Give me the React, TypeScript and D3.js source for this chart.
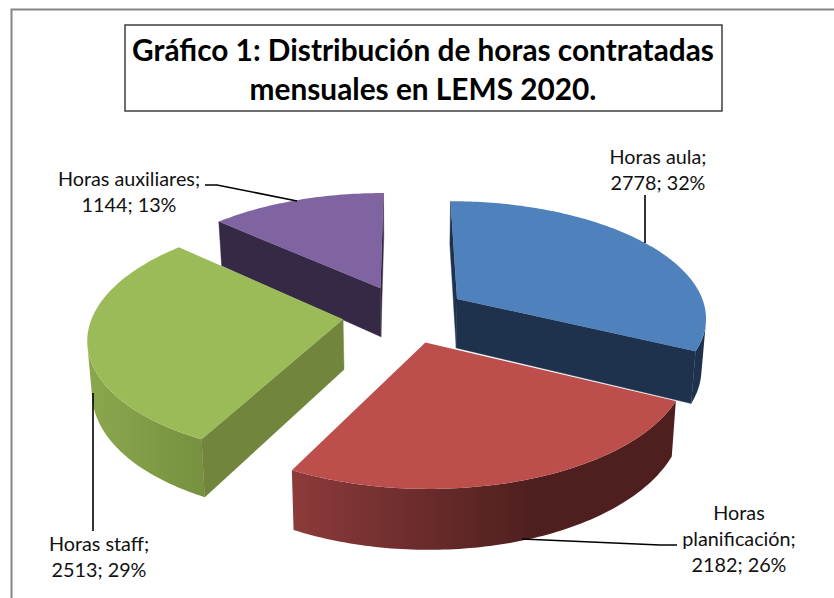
import React from "react";
import * as d3 from "d3";

const categories = ["Horas aula", "Horas planificación", "Horas staff", "Horas auxiliares"];
const hours = [2778, 2182, 2513, 1144];
const percentLabels = ["32%", "26%", "29%", "13%"];
const topColors = ["#4f81bd", "#bc4f4c", "#9bbb59", "#8064a2"];
const faceColors = ["#1e324d", "#4f1f1f", "#71853d", "#352945"];
const wallFrom = ["#1e324d", "#8c3b3a", "#8ba74d", "#352945"];
const wallTo = ["#1e324d", "#4f1f1f", "#76913f", "#352945"];
const wallDomains: [number, number][] = [[600, 700], [292, 530], [90, 203], [220, 380]];
const drawOrder = [3, 0, 2, 1];
const titleLines = ["Gráfico 1: Distribución de horas contratadas", "mensuales en LEMS 2020."];

const CX = 405, CY = 314, A = 250, B = 116, P = 0.145, H = 50, EXPLODE = 0.25;

type Pt = [number, number];
const topPoint = (u: number, v: number): Pt => {
  const k = 1 - P * v;
  return [CX + (A * u) / k, CY + (B * v) / k];
};
const bottomPoint = (u: number, v: number): Pt => {
  const [x, y] = topPoint(u, v);
  return [CX + (x - CX) * 0.985, y + H / (1 - P * v)];
};
const poly = d3.line<Pt>().curve(d3.curveLinearClosed);

const pie = d3.pie<number>().sort(null).value((d) => d).startAngle(0).endAngle(2 * Math.PI);
const arcs = pie(hours);

function Slice({ i }: { i: number }) {
  const a = arcs[i];
  const mid = (a.startAngle + a.endAngle) / 2;
  const ox = EXPLODE * Math.sin(mid);
  const oy = -EXPLODE * Math.cos(mid);
  const steps = Math.max(8, Math.round(((a.endAngle - a.startAngle) * 180) / Math.PI));
  const angle = d3.scaleLinear().domain([0, steps]).range([a.startAngle, a.endAngle]);
  const ground: Pt[] = [
    [ox, oy],
    ...d3.range(steps + 1).map((s): Pt => [ox + Math.sin(angle(s)), oy - Math.cos(angle(s))]),
  ];

  const faces: string[] = [];
  const wallTop: Pt[] = [];
  const wallBottom: Pt[] = [];
  const n = ground.length;
  for (let k = 0; k < n; k++) {
    const g0 = ground[k];
    const g1 = ground[(k + 1) % n];
    const q: Pt[] = [topPoint(g0[0], g0[1]), topPoint(g1[0], g1[1]), bottomPoint(g1[0], g1[1]), bottomPoint(g0[0], g0[1])];
    if (d3.polygonArea(q) <= 0) continue;
    if (k === 0 || k === n - 1) {
      faces.push(poly(q) as string);
    } else {
      if (wallTop.length === 0) {
        wallTop.push(q[0]);
        wallBottom.push(q[3]);
      }
      wallTop.push(q[1]);
      wallBottom.push(q[2]);
    }
  }
  const wall = wallTop.length ? (poly([...wallTop, ...wallBottom.slice().reverse()]) as string) : null;
  const top = poly(ground.map(([u, v]) => topPoint(u, v))) as string;
  const gradId = `wall-${i}`;
  return (
    <g>
      <defs>
        <linearGradient id={gradId} gradientUnits="userSpaceOnUse" x1={wallDomains[i][0]} x2={wallDomains[i][1]} y1={0} y2={0}>
          <stop offset="0" stopColor={wallFrom[i]} />
          <stop offset="1" stopColor={wallTo[i]} />
        </linearGradient>
      </defs>
      {wall && <path d={wall} fill={`url(#${gradId})`} />}
      {faces.map((d, k) => (
        <path key={k} d={d} fill={faceColors[i]} stroke={faceColors[i]} strokeWidth={0.4} />
      ))}
      <path d={top} fill={topColors[i]} />
    </g>
  );
}

const leaders: { pts: Pt[] }[] = [
  { pts: [[645, 195], [645, 243]] },
  { pts: [[677, 545], [660, 545], [522, 539]] },
  { pts: [[93, 393], [93, 531]] },
  { pts: [[205, 185], [217, 185], [297, 201]] },
];
const lineGen = d3.line<Pt>();

const labelBlocks = [
  { x: 658, lines: [`${categories[0]};`, `${hours[0]}; ${percentLabels[0]}`], ys: [164, 190] },
  { x: 739, lines: ["Horas", "planificación;", `${hours[1]}; ${percentLabels[1]}`], ys: [520, 546, 572] },
  { x: 99, lines: [`${categories[2]};`, `${hours[2]}; ${percentLabels[2]}`], ys: [551, 577] },
  { x: 129, lines: [`${categories[3]};`, `${hours[3]}; ${percentLabels[3]}`], ys: [186, 212] },
];

export default function App() {
  return (
    <svg
      width={834}
      height={598}
      style={{ position: "absolute", left: 0, top: 0, display: "block", background: "#fff" }}
      fontFamily="Lato, 'Open Sans', sans-serif"
    >
      <path d="M11.5,598 V9.5 H834" fill="none" stroke="#868686" strokeWidth={2} />
      <rect x={125} y={25} width={597} height={86} fill="#fff" stroke="#222" strokeWidth={1.3} />
      {titleLines.map((t, i) => (
        <text key={i} x={423} y={i === 0 ? 61 : 100} textAnchor="middle" fontWeight={700} fontSize={29.8} fill="#000">
          {t}
        </text>
      ))}
      {drawOrder.map((i) => (
        <Slice key={i} i={i} />
      ))}
      {leaders.map((l, i) => (
        <path key={i} d={lineGen(l.pts) as string} fill="none" stroke="#000" strokeWidth={1.6} />
      ))}
      {labelBlocks.map((b, i) => (
        <g key={i}>
          {b.lines.map((t, j) => (
            <text key={j} x={b.x} y={b.ys[j]} textAnchor="middle" fontSize={19.8} fill="#111">
              {t}
            </text>
          ))}
        </g>
      ))}
    </svg>
  );
}
